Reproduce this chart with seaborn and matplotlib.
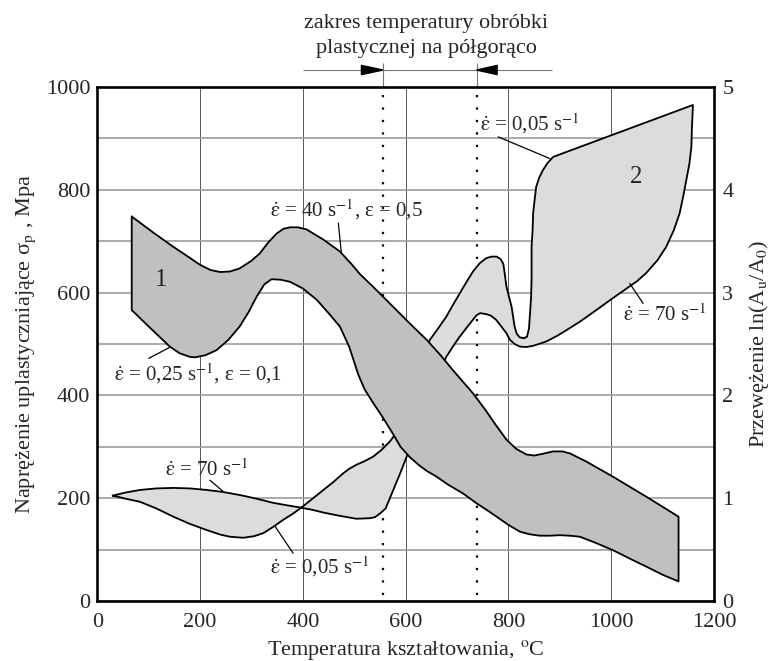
import numpy as np
import pandas as pd
import matplotlib
matplotlib.use("Agg")
import matplotlib.pyplot as plt
import seaborn as sns

# ---------------- data ----------------
# Region 1: flow stress band (MPa), upper boundary left->right
band_upper_x = [67, 110, 148, 175, 200, 220, 239, 258, 277, 300, 316, 333, 349, 362, 375, 390,
                407, 440, 472, 495, 511, 537, 575, 610, 641, 668, 692, 731, 755, 775, 796, 815,
                835, 850, 865, 887, 905, 920, 952, 1003, 1068, 1131]
band_upper_y = [748, 716, 689, 671, 654, 644, 640, 641, 647, 662, 676, 698, 715, 724, 727, 727,
                723, 703, 680, 655, 636, 611, 573, 538, 508, 478, 449, 404, 372, 343, 314, 296,
                285, 283, 286, 291, 291, 287, 271, 242, 203, 164]
# lower boundary right->left
band_lower_x = [1131, 1100, 1068, 1035, 1003, 970, 939, 920, 900, 880, 861, 840, 822, 800, 777,
                758, 738, 712, 695, 680, 660, 641, 625, 608, 590, 576, 555, 535, 520, 508, 490,
                472, 450, 427, 400, 375, 357, 339, 325, 310, 295, 277, 255, 232, 210, 190, 180,
                160, 141, 100, 67]
band_lower_y = [38, 51, 67, 83, 99, 113, 125, 127, 128, 127, 127, 130, 135, 148, 164,
                177, 190, 209, 219, 228, 242, 253, 265, 280, 300, 324, 358, 388, 412, 440, 495,
                534, 560, 586, 608, 621, 625, 626, 616, 592, 563, 534, 508, 488, 478, 474, 475,
                482, 495, 534, 566]

# Region 2: reduction of area, curve for strain rate 0.05 1/s (tip -> upper corner)
c005_x = [30, 55, 83, 115, 148, 180, 213, 240, 258, 284, 305, 323, 342, 362, 381, 400, 420, 440,
          460, 478, 490, 504, 520, 537, 553, 569, 578, 600, 625, 647, 663, 679, 692, 705, 718,
          731, 744, 757, 767, 777, 785, 790, 793, 796, 801, 806, 809, 812, 816, 822, 830, 836,
          840, 842, 844, 845, 845, 845, 847, 848, 851, 854, 860, 867, 876, 887, 1159]
c005_y = [205, 199, 193, 180, 164, 150, 138, 129, 125, 123, 126, 132, 144, 158, 170, 184, 200, 216,
          232, 248, 257, 265, 272, 281, 294, 310, 322, 385, 450, 508, 530, 553, 576, 598, 620,
          641, 657, 667, 670, 670, 665, 656, 635, 612, 592, 573, 553, 534, 520, 513, 511, 514,
          530, 560, 590, 625, 660, 689, 722, 754, 781, 806, 824, 838, 852, 864, 965]
# curve for strain rate 70 1/s (upper corner -> tip)
c70_x = [1159, 1157, 1156, 1152, 1146, 1140, 1133, 1122, 1107, 1090, 1068, 1050, 1030, 1000, 971,
         940, 913, 895, 874, 850, 835, 822, 812, 803, 796, 787, 776, 766, 757, 745, 738, 722, 705,
         692, 679, 660, 640, 620, 602, 590, 576, 561, 550, 540, 530, 504, 470, 440, 420, 394, 370,
         342, 310, 278, 245, 213, 180, 148, 115, 83, 55, 30]
c70_y = [965, 920, 884, 850, 819, 787, 754, 722, 689, 663, 638, 622, 608, 587, 566,
         544, 527, 516, 505, 497, 494, 495, 500, 508, 521, 533, 547, 555, 558, 560, 556, 536, 514,
         495, 475, 430, 385, 330, 281, 250, 216, 180, 170, 163, 161, 160, 166, 172, 177, 182, 186,
         191, 199, 206, 212, 216, 219, 220, 219, 216, 211, 205]

# warm-working temperature range (deg C)
zone_bounds = [556, 738]

x_ticks = [0, 200, 400, 600, 800, 1000, 1200]
y_ticks = [0, 200, 400, 600, 800, 1000]
y2_ticks = [0, 1, 2, 3, 4, 5]

# annotations: (text, x, y) and leader lines
ED = r"$\dot{\mathrm{\varepsilon}}$"
labels = [
    (ED + r" = 40 s$^{-1}$, ε = 0,5", 336, 761),
    (ED + r" = 0,25 s$^{-1}$, ε = 0,1", 33, 443),
    (ED + r" = 70 s$^{-1}$", 132, 255),
    (ED + r" = 0,05 s$^{-1}$", 336, 66),
    (ED + r" = 0,05 s$^{-1}$", 745, 928),
    (ED + r" = 70 s$^{-1}$", 1023, 556),
]
leaders = [
    ((469, 735), (475, 676)),
    ((100, 472), (142, 494)),
    ((219, 235), (245, 213)),
    ((346, 145), (381, 93)),
    ((780, 903), (880, 861)),
    ((1062, 579), (1036, 618)),
]
region_numbers = [("1", 124, 624), ("2", 1049, 825)]

# ---------------- style ----------------
sns.set_style("white")
plt.rcParams["font.family"] = ["Liberation Serif", "DejaVu Serif"]
plt.rcParams["mathtext.fontset"] = "stix"
FS = 16
FA = 15

fig = plt.figure(figsize=(7.74, 6.61), dpi=100)
ax = fig.add_axes([0.1257, 0.0908, 0.7968, 0.7776])
ax.set_xlim(0, 1200)
ax.set_ylim(0, 1000)
ax.set_xticks(x_ticks)
ax.set_yticks(y_ticks)
ax.set_yticks([v + 100 for v in y_ticks[:-1]], minor=True)
ax.tick_params(axis="both", which="both", length=0, labelsize=FS)
ax.tick_params(axis="x", pad=9)
ax.tick_params(axis="y", pad=5)
ax.yaxis.grid(True, which="both", color="#9c9c9c", lw=1.2, zorder=0)
ax.xaxis.grid(True, which="major", color="#555555", lw=0.7, zorder=0)
ax.set_axisbelow(True)
for s in ax.spines.values():
    s.set_color("black")
    s.set_linewidth(1.9)
    s.set_zorder(10)

# dotted range lines
ax.vlines(zone_bounds, 12, 1000, colors="black", linestyles=(0, (1, 4.6)), lw=1.6, zorder=1)
ax.vlines(zone_bounds, 1000, 1047, colors="#777777", lw=0.8, clip_on=False)
ax.hlines(1033, 400, 885, colors="#777777", lw=0.8, clip_on=False)
ax.fill([zone_bounds[0] - 42, zone_bounds[0] - 42, zone_bounds[0]], [1024, 1042, 1033],
        color="black", clip_on=False, zorder=5)
ax.fill([zone_bounds[1] + 40, zone_bounds[1] + 40, zone_bounds[1]], [1024, 1042, 1033],
        color="black", clip_on=False, zorder=5)

# region 2 (light)
lx = c005_x + c70_x
ly = c005_y + c70_y
ax.fill(lx, ly, color="#dcdcdb", lw=0, zorder=2)
sns.lineplot(x=lx, y=ly, sort=False, estimator=None, color="black", lw=1.3, ax=ax, zorder=2.1)

# region 1 (dark)
dx = band_upper_x + band_lower_x + band_upper_x[:1]
dy = band_upper_y + band_lower_y + band_upper_y[:1]
ax.fill(dx, dy, color="#c0c0c0", lw=0, zorder=3)
sns.lineplot(x=dx, y=dy, sort=False, estimator=None, color="black", lw=1.3, ax=ax, zorder=3.1)

for (t, x, y) in labels:
    ax.text(x, y, t, fontsize=FA, ha="left", va="center", zorder=6)
for (p0, p1) in leaders:
    ax.plot([p0[0], p1[0]], [p0[1], p1[1]], color="black", lw=0.9, zorder=6)
for (t, x, y) in region_numbers:
    ax.text(x, y, t, fontsize=FS + 2, ha="center", va="center", zorder=6)

ax.set_xlabel(r"Temperatura kształtowania, $^{\mathrm{o}}$C", fontsize=FS, labelpad=4)
ax.set_ylabel(r"Naprężenie uplastyczniające σ$_{\mathrm{p}}$ , Mpa", fontsize=FS, labelpad=6)

ax2 = ax.twinx()
ax2.set_ylim(0, 5)
ax2.set_yticks(y2_ticks)
ax2.tick_params(axis="y", length=0, labelsize=FS, pad=6)
ax2.set_ylabel(r"Przewężenie ln(A$_{\mathrm{u}}$/A$_{0}$)", fontsize=FS, labelpad=10)
for s in ax2.spines.values():
    s.set_visible(False)

fig.text(0.551, 0.965, "zakres temperatury obróbki", ha="center", va="center", fontsize=FS)
fig.text(0.551, 0.927, "plastycznej na półgorąco", ha="center", va="center", fontsize=FS)

fig.savefig("out.png", dpi=100)
